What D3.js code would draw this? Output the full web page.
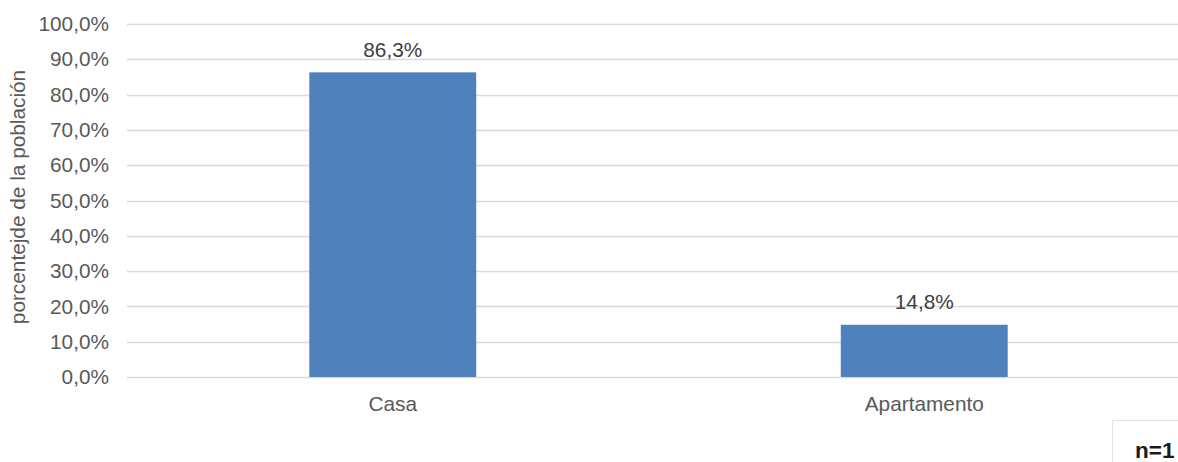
<!DOCTYPE html>
<html>
<head>
<meta charset="utf-8">
<script src="https://cdn.jsdelivr.net/npm/d3@7"></script>
<style>
  html, body { margin: 0; padding: 0; background: #fff; overflow: hidden; }
  svg { display: block; font-family: "Liberation Sans", Arial, sans-serif; }
</style>
</head>
<body>
<svg id="chart" width="1178" height="462"></svg>
<script>
// Tipo de vivienda
const categories = ["Casa", "Apartamento"];
const values = [86.3, 14.8];
const yTicks = [0, 10, 20, 30, 40, 50, 60, 70, 80, 90, 100];
const yTitle = "porcentejde de la población";
const sampleNote = "n=1";

const svg = d3.select("#chart");
const plot = { left: 127, right: 1190, top: 24, bottom: 377 };
const fontSize = 20.8;

const fmt = v => d3.format(".1f")(v).replace(".", ",") + "%";

const x = d3.scaleBand()
  .domain(categories)
  .range([plot.left, plot.right])
  .paddingInner(0.686)
  .paddingOuter(0.343);

const y = d3.scaleLinear().domain([0, 100]).range([plot.bottom, plot.top]);

// horizontal gridlines
svg.append("g")
  .selectAll("line")
  .data(yTicks)
  .join("line")
  .attr("x1", plot.left)
  .attr("x2", 1178)
  .attr("y1", d => Math.round(y(d)) + 0.5)
  .attr("y2", d => Math.round(y(d)) + 0.5)
  .attr("stroke", "#d9d9d9")
  .attr("stroke-width", 1.3);

// y axis labels
const yAxis = d3.axisLeft(y).tickValues(yTicks).tickFormat(fmt).tickSize(0).tickPadding(0);
const gy = svg.append("g").attr("transform", `translate(${plot.left - 18},0)`).call(yAxis);
gy.select(".domain").remove();
gy.selectAll("text")
  .attr("fill", "#595959")
  .attr("font-size", fontSize)
  .attr("font-family", "'Liberation Sans', Arial, sans-serif");

// bars
svg.append("g")
  .selectAll("rect")
  .data(categories)
  .join("rect")
  .attr("x", d => x(d))
  .attr("width", x.bandwidth())
  .attr("y", (d, i) => y(values[i]))
  .attr("height", (d, i) => y(0) - y(values[i]))
  .attr("fill", "#4f81bd");

// value labels
svg.append("g")
  .selectAll("text")
  .data(categories)
  .join("text")
  .attr("x", d => x(d) + x.bandwidth() / 2)
  .attr("y", (d, i) => y(values[i]) - 15.5)
  .attr("text-anchor", "middle")
  .attr("fill", "#404040")
  .attr("font-size", fontSize)
  .text((d, i) => fmt(values[i]));

// category labels
const xAxis = d3.axisBottom(x).tickSize(0).tickPadding(0);
const gx = svg.append("g").attr("transform", `translate(0,411)`).call(xAxis);
gx.select(".domain").remove();
gx.selectAll("text")
  .attr("fill", "#595959")
  .attr("font-size", fontSize)
  .attr("font-family", "'Liberation Sans', Arial, sans-serif")
  .attr("dy", 0);

// axis title
svg.append("text")
  .attr("transform", `translate(25,197) rotate(-90)`)
  .attr("text-anchor", "middle")
  .attr("fill", "#595959")
  .attr("font-size", fontSize)
  .text(yTitle);

// sample size box
svg.append("rect")
  .attr("x", 1112.5)
  .attr("y", 420.5)
  .attr("width", 80)
  .attr("height", 60)
  .attr("fill", "#fff")
  .attr("stroke", "#e3e3e3")
  .attr("stroke-width", 1);

svg.append("text")
  .attr("x", 1135)
  .attr("y", 458)
  .attr("fill", "#1a1a1a")
  .attr("font-size", 22.5)
  .attr("font-weight", "bold")
  .text(sampleNote);
</script>
</body>
</html>
